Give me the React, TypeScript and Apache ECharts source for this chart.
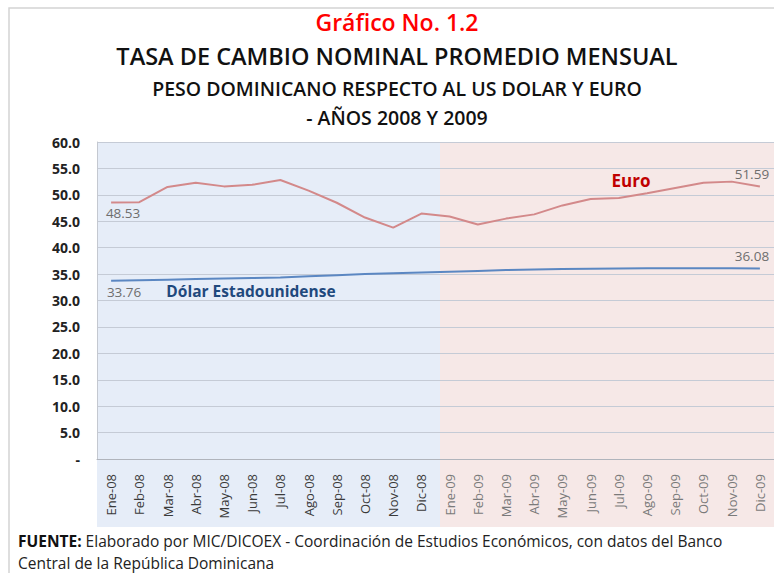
import React, { useEffect, useRef } from "react";
import * as echarts from "echarts";

const categories = [
  "Ene-08", "Feb-08", "Mar-08", "Abr-08", "May-08", "Jun-08", "Jul-08", "Ago-08", "Sep-08", "Oct-08", "Nov-08", "Dic-08",
  "Ene-09", "Feb-09", "Mar-09", "Abr-09", "May-09", "Jun-09", "Jul-09", "Ago-09", "Sep-09", "Oct-09", "Nov-09", "Dic-09",
];
const euroValues = [
  48.53, 48.6, 51.5, 52.3, 51.6, 51.9, 52.8, 50.8, 48.5, 45.7, 43.8, 46.45,
  45.9, 44.4, 45.5, 46.3, 48.0, 49.2, 49.4, 50.3, 51.3, 52.3, 52.5, 51.59,
];
const dollarValues = [
  33.76, 33.85, 33.95, 34.05, 34.15, 34.25, 34.35, 34.6, 34.8, 35.0, 35.15, 35.3,
  35.45, 35.6, 35.75, 35.85, 35.95, 36.0, 36.05, 36.1, 36.12, 36.12, 36.12, 36.08,
];
const titleLines = [
  "Gráfico No. 1.2",
  "TASA DE CAMBIO NOMINAL PROMEDIO MENSUAL",
  "PESO DOMINICANO RESPECTO AL US DOLAR Y EURO",
  "- AÑOS 2008 Y 2009",
];
const yMin = 0;
const yMax = 60;
const yInterval = 5;

const FONT = "'Open Sans', 'Noto Sans', sans-serif";

export default function App() {
  const ref = useRef<HTMLDivElement>(null);
  useEffect(() => {
    document.body.style.margin = "0";
    if (!ref.current) return;
    const chart = echarts.init(ref.current, null, { renderer: "svg" });

    const gridLeft = 97;
    const gridTop = 142;
    const gridRight = -9;
    const gridBottom = 114;
    const plotW = 774 - gridLeft - gridRight;
    const catW = plotW / categories.length;
    const split = gridLeft + catW * 12;
    const bandBottom = 527;

    const lastIdx = categories.length - 1;
    const numLabel = { color: "#6e6e6e", fontSize: 13.5, fontFamily: FONT };

    chart.setOption({
      animation: false,
      backgroundColor: "#ffffff",
      textStyle: { fontFamily: FONT },
      grid: { left: gridLeft, top: gridTop, right: gridRight, bottom: gridBottom, containLabel: false },
      xAxis: {
        type: "category",
        data: categories.map((c, i) => ({
          value: c,
          textStyle: { color: i < 12 ? "#3a3a3a" : "#7a7a7a" },
        })),
        boundaryGap: true,
        axisLine: { show: true, lineStyle: { color: "#b0b4bc", width: 1 } },
        axisTick: { show: false },
        axisLabel: { rotate: 90, fontSize: 13, fontFamily: FONT, margin: 15, interval: 0 },
        splitLine: { show: false },
      },
      yAxis: {
        type: "value",
        min: yMin,
        max: yMax,
        interval: yInterval,
        axisLine: { show: true, lineStyle: { color: "#c4c8d0" } },
        axisTick: { show: false },
        axisLabel: {
          fontSize: 14,
          fontWeight: "bold",
          color: "#222222",
          fontFamily: FONT,
          margin: 17,
          formatter: (v: number) => (v === 0 ? "-" : v.toFixed(1)),
        },
        splitLine: { show: true, lineStyle: { color: "#c5cbd6", width: 1 } },
      },
      graphic: [
        { type: "rect", z: -10, shape: { x: 9, y: 8, width: 820, height: 620 }, style: { fill: "#ffffff", stroke: "#d4d4d4", lineWidth: 1.5 } },
        { type: "rect", z: -5, shape: { x: gridLeft, y: gridTop, width: split - gridLeft, height: bandBottom - gridTop }, style: { fill: "#e6edf8" } },
        { type: "rect", z: -5, shape: { x: split, y: gridTop, width: 800 - split, height: bandBottom - gridTop }, style: { fill: "#f6e8e7" } },
        { type: "text", x: 397, y: 10, style: { text: titleLines[0], fill: "#ff0000", font: `600 23px ${FONT}`, textAlign: "center" } },
        { type: "text", x: 397, y: 44, style: { text: titleLines[1], fill: "#111111", font: `600 23.5px ${FONT}`, textAlign: "center" } },
        { type: "text", x: 397, y: 78, style: { text: titleLines[2], fill: "#111111", font: `600 19.5px ${FONT}`, textAlign: "center" } },
        { type: "text", x: 397, y: 107, style: { text: titleLines[3], fill: "#111111", font: `600 19.5px ${FONT}`, textAlign: "center" } },
        {
          type: "text",
          x: 18,
          y: 530,
          style: {
            text: "{b|FUENTE:} Elaborado por MIC/DICOEX - Coordinación de Estudios Económicos, con datos del Banco\nCentral de la República Dominicana",
            rich: {
              b: { fontWeight: "bold", fontSize: 15.5, fontFamily: FONT, fill: "#111111" },
            },
            font: `15.5px ${FONT}`,
            fill: "#222222",
            lineHeight: 22,
          },
        },
      ],
      series: [
        {
          name: "Euro",
          type: "line",
          data: euroValues.map((v, i) => {
            if (i === 0) {
              return { value: v, label: { show: true, position: "bottom", offset: [12, -2], formatter: "{c}" } };
            }
            if (i === lastIdx) {
              return { value: v, label: { show: true, position: "top", offset: [-8, 0], formatter: "{c}" } };
            }
            return v;
          }),
          symbol: "circle",
          symbolSize: 0,
          showSymbol: true,
          lineStyle: { color: "#d3898a", width: 2 },
          itemStyle: { color: "#d3898a" },
          label: { show: false, ...numLabel },
          markPoint: {
            symbol: "circle",
            symbolSize: 0,
            data: [
              {
                coord: ["Ago-09", 52.8],
                label: { show: true, formatter: "Euro", color: "#c00000", fontWeight: "bold", fontSize: 17, fontFamily: FONT, offset: [-16, 0] },
              },
            ],
          },
          z: 3,
        },
        {
          name: "Dólar",
          type: "line",
          data: dollarValues.map((v, i) => {
            if (i === 0) {
              return { value: v, label: { show: true, position: "bottom", offset: [13, -1], formatter: "{c}" } };
            }
            if (i === lastIdx) {
              return { value: v, label: { show: true, position: "top", offset: [-8, 0], formatter: (p: any) => p.value.toFixed(2) } };
            }
            return v;
          }),
          symbol: "circle",
          symbolSize: 0,
          showSymbol: true,
          lineStyle: { color: "#5b87c2", width: 2 },
          itemStyle: { color: "#5b87c2" },
          label: { show: false, ...numLabel },
          markPoint: {
            symbol: "circle",
            symbolSize: 0,
            data: [
              {
                coord: ["May-08", 31.86],
                label: { show: true, formatter: "Dólar Estadounidense", color: "#1f497d", fontWeight: "bold", fontSize: 15.5, fontFamily: FONT, offset: [27, 0] },
              },
            ],
          },
          z: 3,
        },
      ],
    });
    return () => chart.dispose();
  }, []);
  return <div ref={ref} style={{ width: 774, height: 573 }} />;
}
